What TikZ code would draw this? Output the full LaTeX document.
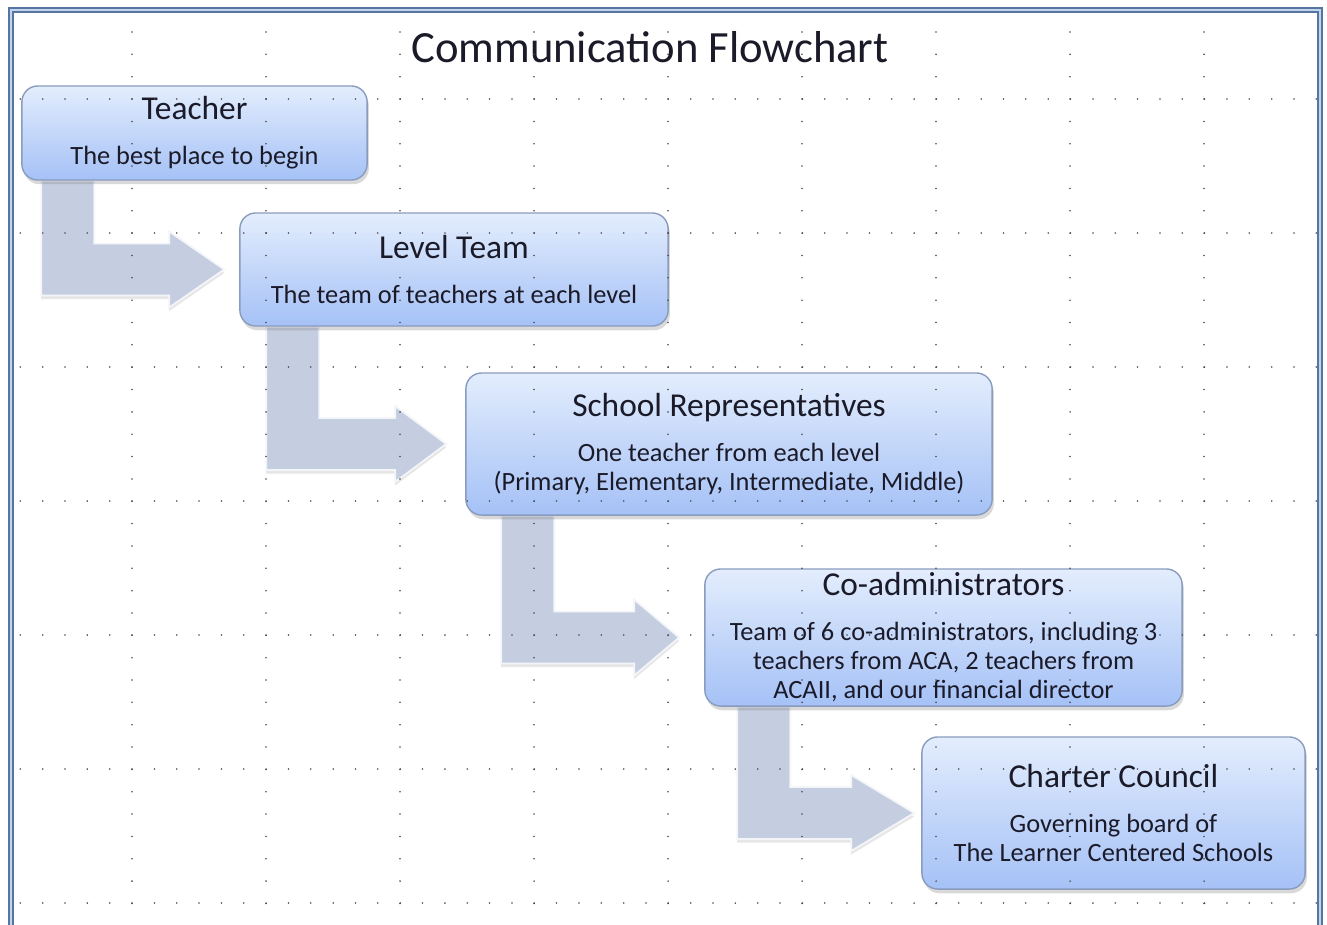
\documentclass[tikz,border=0pt]{standalone}
\usepackage{fontspec}
\setmainfont{Carlito}
\usetikzlibrary{calc,shadows,backgrounds}
\definecolor{boxtop}{HTML}{E3EDFD}
\definecolor{boxbottom}{HTML}{A5C1F6}
\definecolor{boxline}{HTML}{8A9CBD}
\definecolor{arrowfill}{HTML}{C5CEE0}
\definecolor{frameblue}{HTML}{5575A3}
\definecolor{framelight}{HTML}{C4D4EA}
\definecolor{inktext}{HTML}{1A1A28}

\newcommand{\stagetitle}[1]{{\fontsize{9.5}{11}\selectfont #1}}
\newcommand{\flowarrow}[4]{%
    \path[flow] ($(#1.south west)+(#3,0)$) coordinate (s) -- ++(53,0)
        |- ($(#2.west)+(-70,-26)$) -- ++(0,-12) -- ($(#2.west)+(-#4,0)$)
        -- ($(#2.west)+(-70,38)$) -- ++(0,-12) -| (s) -- cycle;}

\tikzstyle{stage}=[draw=boxline, line width=0.4pt, rounded corners=4.5pt, top color=boxtop, bottom color=boxbottom, align=center, text=inktext, inner sep=0pt, font=\fontsize{7.5}{8.3}\selectfont, drop shadow={shadow xshift=0.5pt, shadow yshift=-1.2pt, opacity=0.3}]
\tikzstyle{flow}=[fill=arrowfill, draw=white!80!arrowfill, line width=0.5pt, drop shadow={shadow xshift=0pt, shadow yshift=-1pt, opacity=0.2}]
\tikzstyle{griddots}=[black!70, line width=0.5pt, line cap=round, dash pattern=on 0pt off 6.354pt]
\tikzstyle{frame}=[draw=frameblue, line width=0.55pt, double=framelight, double distance=0.6pt]

\begin{document}
\begin{tikzpicture}[x=0.01cm, y=-0.01cm]
    \useasboundingbox (0,0) rectangle (1327,924);
    \clip (0,0) rectangle (1327,924);

    \node[text=inktext, font=\fontsize{12.7}{15}\selectfont] (title) at (650,47) {Communication Flowchart};

    % the five stages
    \node[stage, minimum width=3.45cm, minimum height=0.94cm] (teacher) at (194.5,133)
        {\stagetitle{Teacher}\\[4.4pt] The best place to begin};
    \node[stage, minimum width=4.28cm, minimum height=1.13cm] (level) at (454,269.5)
        {\stagetitle{Level Team}\\[4.4pt] The team of teachers at each level};
    \node[stage, minimum width=5.26cm, minimum height=1.42cm] (school) at (729,444)
        {\stagetitle{School Representatives}\\[4.4pt] One teacher from each level\\ (Primary, Elementary, Intermediate, Middle)};
    \node[stage, minimum width=4.77cm, minimum height=1.37cm] (coadmin) at (943.5,637.5)
        {\stagetitle{Co-administrators}\\[4.4pt] Team of 6 co-administrators, including 3\\ teachers from ACA, 2 teachers from\\ ACAII, and our financial director};
    \node[stage, minimum width=3.83cm, minimum height=1.52cm] (charter) at (1113.5,813)
        {\stagetitle{Charter Council}\\[4.4pt] Governing board of\\ The Learner Centered Schools};

    % bent arrows between stages
    \begin{scope}[on background layer]
    \foreach \src/\dst/\sx/\tx in {teacher/level/20/15, level/school/27/19,
                                   school/coadmin/36/25, coadmin/charter/33/7}
        \flowarrow{\src}{\dst}{\sx}{\tx};
    \end{scope}

    % dotted drawing grid
    \foreach \y in {99,233,...,903}
        \draw[griddots] (20.33,\y) -- (1322,\y);
    \foreach \x in {132,266,...,1204}
        \draw[griddots] (\x,9.67) -- (\x,922);

    \draw[frame] (11,10) rectangle (1320,930);
\end{tikzpicture}
\end{document}
